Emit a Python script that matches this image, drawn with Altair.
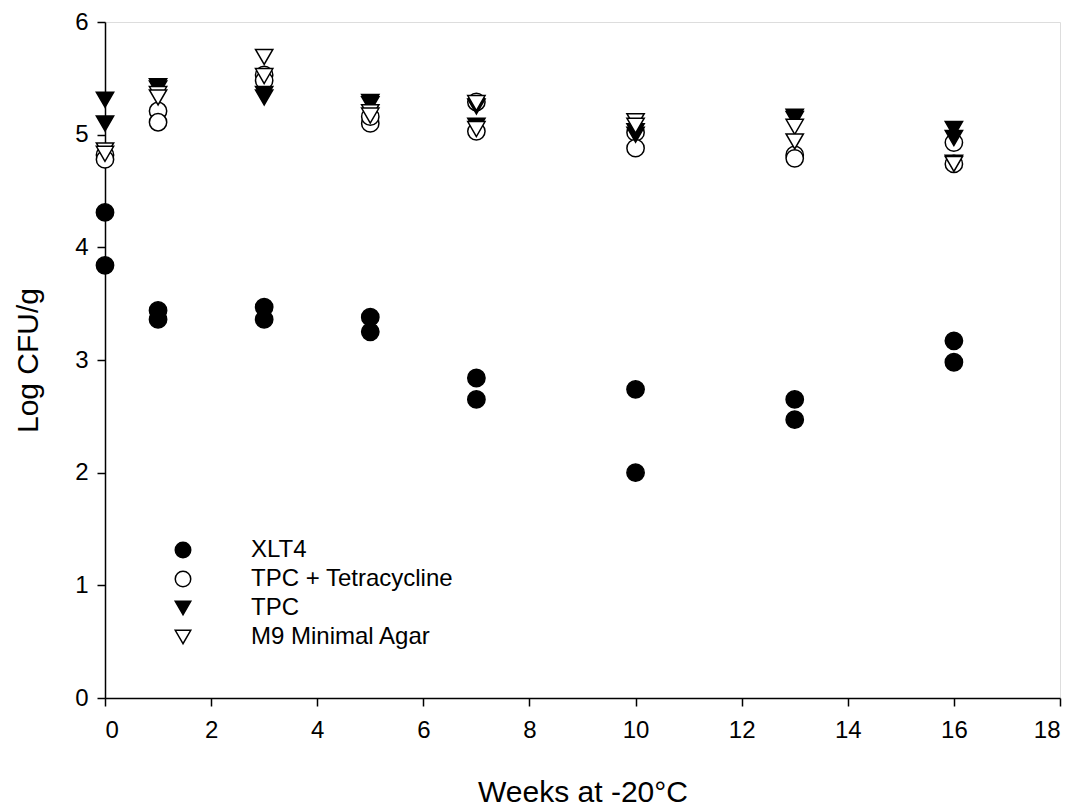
import altair as alt
import pandas as pd

weeks = [0, 1, 3, 5, 7, 10, 13, 16]
series_names = ["XLT4", "TPC + Tetracycline", "TPC", "M9 Minimal Agar"]

xlt4_a = [4.31, 3.44, 3.47, 3.38, 2.84, 2.74, 2.65, 3.17]
xlt4_b = [3.84, 3.36, 3.36, 3.25, 2.65, 2.00, 2.47, 2.98]
tet_a = [4.82, 5.21, 5.53, 5.10, 5.29, 5.02, 4.82, 4.93]
tet_b = [4.78, 5.11, 5.48, 5.16, 5.03, 4.88, 4.79, 4.74]
tpc_a = [5.31, 5.43, 5.36, 5.29, 5.25, 5.03, 5.16, 5.05]
tpc_b = [5.10, 5.41, 5.33, 5.27, 5.08, 5.00, 5.14, 4.97]
m9_a = [4.86, 5.36, 5.69, 5.20, 5.28, 5.12, 5.07, 4.75]
m9_b = [4.83, 5.33, 5.52, 5.17, 5.05, 5.08, 4.94, 4.74]

rows = []
for name, reps in [("XLT4", [xlt4_a, xlt4_b]),
                   ("TPC + Tetracycline", [tet_a, tet_b]),
                   ("TPC", [tpc_a, tpc_b]),
                   ("M9 Minimal Agar", [m9_a, m9_b])]:
    for rep in reps:
        for w, v in zip(weeks, rep):
            rows.append({"week": w, "logcfu": v, "series": name})
df = pd.DataFrame(rows)

FONT = "Liberation Sans"

legend = alt.Legend(
    title=None, orient="none", legendX=66, legendY=516, padding=0,
    labelFont=FONT, labelFontSize=24, labelColor="black", labelOffset=56, labelLimit=0,
    symbolSize=240, symbolStrokeColor="black", symbolStrokeWidth=1.5,
    rowPadding=5,
)

chart = alt.Chart(df).mark_point(size=300, strokeWidth=1.5, opacity=1).encode(
    x=alt.X("week:Q", scale=alt.Scale(domain=[0, 18], nice=False, zero=False),
            axis=alt.Axis(title="Weeks at -20°C", values=list(range(0, 19, 2)), grid=False,
                          domainColor="black", domainWidth=1.5, tickColor="black", tickWidth=1.5,
                          tickSize=8, labelFont=FONT, labelFontSize=24, labelColor="black",
                          labelPadding=12, titleFont=FONT, titleFontSize=30, titleFontWeight="normal",
                          titleColor="black", titleY=94, titleBaseline="middle")),
    y=alt.Y("logcfu:Q", scale=alt.Scale(domain=[0, 6], nice=False, zero=False),
            axis=alt.Axis(title="Log CFU/g", values=list(range(0, 7)), grid=False,
                          domainColor="black", domainWidth=1.5, tickColor="black", tickWidth=1.5,
                          tickSize=8, labelFont=FONT, labelFontSize=24, labelColor="black",
                          labelPadding=9, titleFont=FONT, titleFontSize=30, titleFontWeight="normal",
                          titleColor="black", titleX=-77, titleY=338, titleAngle=-90,
                          titleAlign="center", titleBaseline="middle")),
    shape=alt.Shape("series:N", sort=series_names,
                    scale=alt.Scale(domain=series_names,
                                    range=["circle", "circle", "triangle-down", "triangle-down"]),
                    legend=legend),
    fill=alt.Fill("series:N", sort=series_names,
                  scale=alt.Scale(domain=series_names, range=["black", "white", "black", "white"]),
                  legend=legend),
    stroke=alt.Stroke("series:N", sort=series_names,
                      scale=alt.Scale(domain=series_names, range=["black", "black", "black", "black"]),
                      legend=legend),
    order=alt.Order("idx:Q"),
).transform_window(idx="row_number()").properties(
    width=955, height=676,
    autosize=alt.AutoSizeParams(type="none"),
    padding={"left": 105, "top": 22, "right": 23, "bottom": 112},
).configure_view(stroke="black", strokeWidth=1.5).configure(background="white")

chart.save("out.html", embed_options={"renderer": "svg", "actions": False})
